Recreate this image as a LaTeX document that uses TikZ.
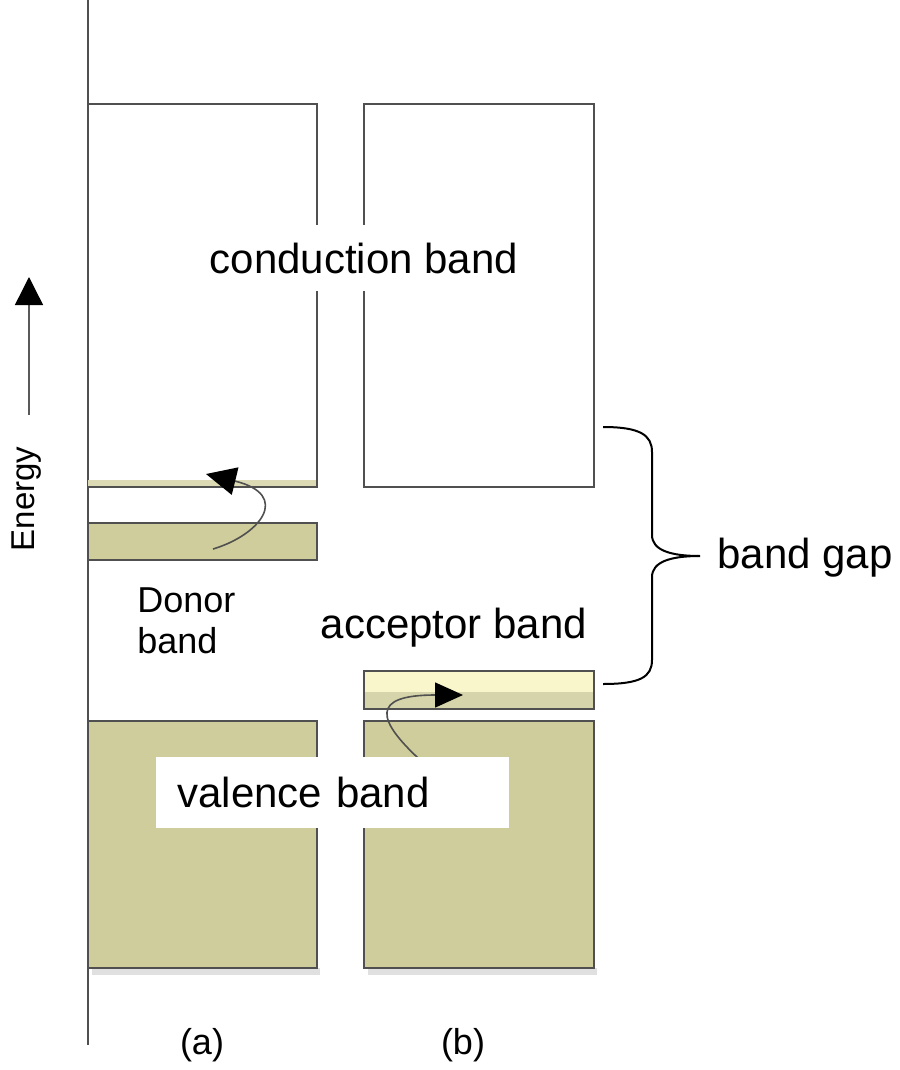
\documentclass[tikz,border=0pt]{standalone}
\usepackage{fontspec}
\setmainfont{Liberation Sans}
\usetikzlibrary{arrows.meta}
\definecolor{bandolive}{RGB}{207,205,155}
\definecolor{paleyellow}{RGB}{249,246,203}
\definecolor{edgegray}{RGB}{80,80,80}
\tikzset{
  bandbox/.style={draw=edgegray, line width=1pt},
  bigtext/.style={font=\fontsize{21}{25}\selectfont, inner sep=0pt},
  smalltext/.style={font=\fontsize{18}{21}\selectfont, inner sep=0pt},
  hop/.style={draw=edgegray, line width=0.8pt}
}

\begin{document}
\begin{tikzpicture}[x=0.5pt,y=-0.5pt]
\useasboundingbox (0,0) rectangle (899,1070);
%----------axis and energy arrow---------------
\draw[edgegray, line width=0.8pt] (88,0) -- (88,1045);
\coordinate (e0) at (29,415);
\coordinate (e1) at (29,277);
\draw[gray!70!black, line width=0.7pt, -{Triangle[length=14pt,width=14pt,color=black]}] (e0) -- (e1);
\node[rotate=90, font=\fontsize{16.5}{19}\selectfont, inner sep=0pt] (energy) at (27,499) {Energy};
%----------conduction bands--------------------
\fill[bandolive!75!white] (88,480) rectangle (317,487);
\draw[bandbox] (88,104) -- (317,104) -- (317,487) -- (88,487);
\draw[bandbox] (364,104) rectangle (594,487);
%----------donor and acceptor bands------------
\draw[bandbox, fill=bandolive] (88,523) rectangle (317,560);
\fill[paleyellow] (364,671) rectangle (594,692);
\fill[bandolive!85!white] (364,692) rectangle (594,709);
\draw[bandbox] (364,671) rectangle (594,709);
%----------valence bands-----------------------
\fill[black!12] (92,968) rectangle (320,975);
\fill[black!12] (368,968) rectangle (597,975);
\draw[bandbox, fill=bandolive] (88,721) rectangle (317,968);
\draw[bandbox, fill=bandolive] (364,721) rectangle (594,968);
%----------transitions-------------------------
\coordinate (d0) at (213,549);
\coordinate (d1) at (206,474);
\draw[hop, -{Triangle[length=15pt,width=14pt,color=black]}] (d0) .. controls (260,535) and (292,495) .. (d1);
\coordinate (a0) at (428,767);
\coordinate (a1) at (463,695);
\draw[hop, -{Triangle[length=14pt,width=12.5pt,color=black]}] (a0) .. controls (372,718) and (372,695) .. (a1);
%----------band gap brace----------------------
\coordinate (gtop) at (603,427);
\coordinate (gtip) at (700,556);
\coordinate (gbot) at (603,684);
\draw[line width=1pt] (gtop) .. controls (640,427) and (652,435) .. (652,452) -- (652,535)
    .. controls (652,550) and (670,556) .. (gtip)
    .. controls (670,556) and (652,562) .. (652,577) -- (652,660)
    .. controls (652,677) and (640,684) .. (gbot);
%----------text--------------------------------
\node[bigtext, anchor=base, fill=white, inner xsep=2pt, inner ysep=9pt] (cond) at (364,273) {conduction band};
\node[bigtext, anchor=base] (acc) at (454,638) {acceptor band};
\node[bigtext, anchor=base west] (gap) at (717,568) {band gap};
\node[smalltext, anchor=base west] (donor) at (137,612) {Donor};
\node[smalltext, anchor=base west] (donorb) at (137,653) {band};
\node[bigtext, fill=white, anchor=north west, text width=155.5pt, inner xsep=10.5pt,
    minimum height=35.5pt, align=left] (val) at (156,757) {valence band};
\node[font=\fontsize{18}{20}\selectfont, inner sep=0pt] (pa) at (202,1045) {(a)};
\node[font=\fontsize{18}{20}\selectfont, inner sep=0pt] (pb) at (463,1045) {(b)};
\end{tikzpicture}
\end{document}
